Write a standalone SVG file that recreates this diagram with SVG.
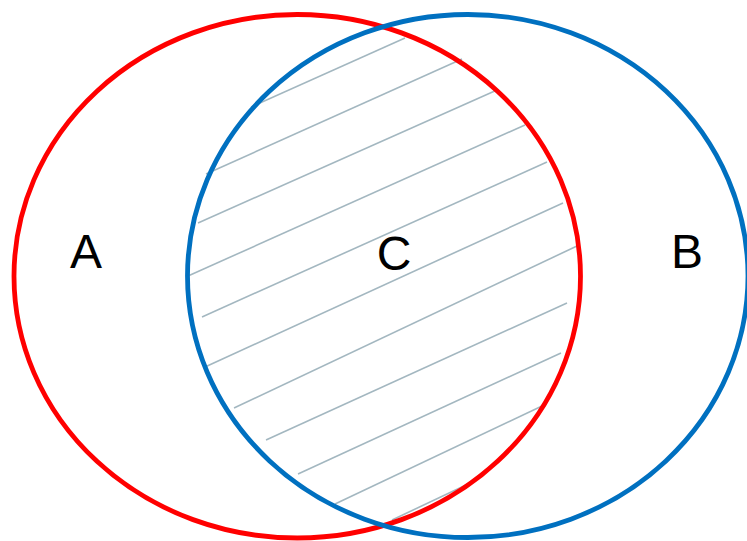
<svg xmlns="http://www.w3.org/2000/svg" width="747" height="541" viewBox="0 0 747 541">
<style>
.hatch{stroke:#a3b7c0;stroke-width:1.6;fill:none}
.lbl{font-family:"Liberation Sans",Arial,sans-serif;font-size:48px;fill:#000;text-anchor:middle}
</style>
<rect width="747" height="541" fill="#fff"/>
<g id="hatching">
<line class="hatch" x1="251" y1="107" x2="405" y2="38"/>
<line class="hatch" x1="206" y1="174" x2="462" y2="59"/>
<line class="hatch" x1="198" y1="223" x2="497" y2="90"/>
<line class="hatch" x1="188" y1="276" x2="525" y2="125"/>
<line class="hatch" x1="202" y1="317" x2="547" y2="162"/>
<line class="hatch" x1="205" y1="367" x2="563" y2="203"/>
<line class="hatch" x1="234" y1="408" x2="577" y2="246"/>
<line class="hatch" x1="266" y1="440" x2="567" y2="303"/>
<line class="hatch" x1="298" y1="474" x2="561" y2="353"/>
<line class="hatch" x1="335" y1="504" x2="542" y2="406"/>
<line class="hatch" x1="392" y1="520" x2="466" y2="485"/>
</g>
<g id="A">
<ellipse cx="297.25" cy="276.25" rx="283.25" ry="261.75" fill="none" stroke="#ff0000" stroke-width="4.8"/>
<text class="lbl" x="86" y="268">A</text>
</g>
<g id="B">
<ellipse cx="467.75" cy="276" rx="280.25" ry="261.5" fill="none" stroke="#0070c0" stroke-width="4.8"/>
<text class="lbl" x="687" y="268">B</text>
</g>
<g id="C">
<text class="lbl" x="394" y="270">C</text>
</g>
</svg>
